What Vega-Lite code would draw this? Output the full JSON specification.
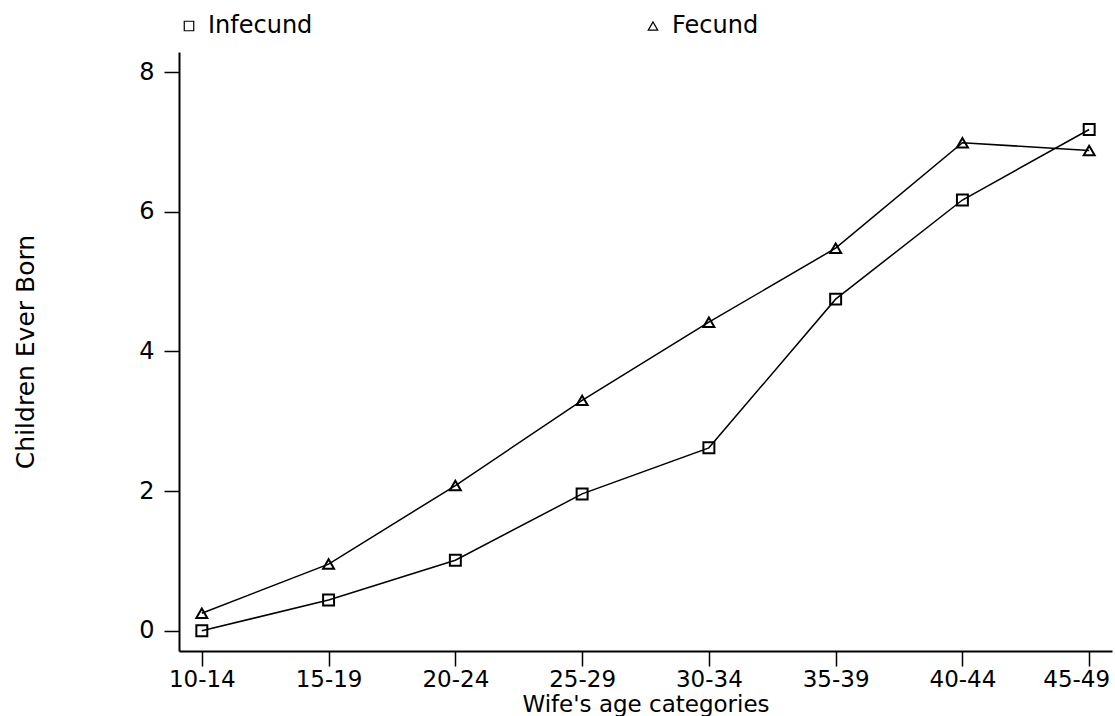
{
  "$schema": "https://vega.github.io/schema/vega-lite/v6.json",
  "width": 933,
  "height": 599,
  "autosize": {"type": "none"},
  "padding": {"left": 179, "top": 52, "right": 3, "bottom": 65},
  "background": "white",
  "config": {
    "view": {"stroke": null},
    "font": "DejaVu Sans",
    "axis": {
      "domainColor": "black",
      "domainWidth": 2,
      "tickColor": "black",
      "tickWidth": 1.5,
      "tickSize": 15,
      "labelFont": "DejaVu Sans",
      "labelFontSize": 24,
      "labelColor": "black",
      "titleFont": "DejaVu Sans",
      "titleFontSize": 24,
      "titleFontWeight": "normal",
      "titleColor": "black",
      "grid": false
    },
    "legend": {
      "labelFont": "DejaVu Sans",
      "labelFontSize": 24,
      "labelColor": "black",
      "padding": 0
    }
  },
  "data": {
    "values": [
      {"age": "10-14", "group": "Infecund", "ceb": 0.0},
      {"age": "15-19", "group": "Infecund", "ceb": 0.44},
      {"age": "20-24", "group": "Infecund", "ceb": 1.01},
      {"age": "25-29", "group": "Infecund", "ceb": 1.96},
      {"age": "30-34", "group": "Infecund", "ceb": 2.62},
      {"age": "35-39", "group": "Infecund", "ceb": 4.75},
      {"age": "40-44", "group": "Infecund", "ceb": 6.17},
      {"age": "45-49", "group": "Infecund", "ceb": 7.18},
      {"age": "10-14", "group": "Fecund", "ceb": 0.25},
      {"age": "15-19", "group": "Fecund", "ceb": 0.955},
      {"age": "20-24", "group": "Fecund", "ceb": 2.08},
      {"age": "25-29", "group": "Fecund", "ceb": 3.3},
      {"age": "30-34", "group": "Fecund", "ceb": 4.42},
      {"age": "35-39", "group": "Fecund", "ceb": 5.48},
      {"age": "40-44", "group": "Fecund", "ceb": 6.99},
      {"age": "45-49", "group": "Fecund", "ceb": 6.88}
    ]
  },
  "encoding": {
    "x": {
      "field": "age",
      "type": "ordinal",
      "sort": ["10-14", "15-19", "20-24", "25-29", "30-34", "35-39", "40-44", "45-49"],
      "scale": {"type": "point", "padding": 0.18},
      "axis": {
        "title": "Wife's age categories",
        "labelAngle": 0,
        "labelFontSize": 23,
        "labelPadding": 2,
        "labelOffset": {"condition": {"test": "datum.label == '45-49'", "value": -13}, "value": 0},
        "titleFontSize": 23,
        "titleBaseline": "alphabetic",
        "titleY": 60
      }
    },
    "y": {
      "field": "ceb",
      "type": "quantitative",
      "scale": {"domain": [-0.29, 8.29], "nice": false, "zero": false},
      "axis": {
        "title": "Children Ever Born",
        "values": [0, 2, 4, 6, 8],
        "labelPadding": 10,
        "titleFontSize": 25,
        "titleBaseline": "alphabetic",
        "titleAngle": 270,
        "titleAlign": "center",
        "titleX": -146,
        "titleY": 299.5
      }
    }
  },
  "layer": [
    {
      "mark": {"type": "line", "color": "black", "strokeWidth": 1.5},
      "encoding": {"detail": {"field": "group"}}
    },
    {
      "mark": {"type": "point", "filled": false, "color": "black", "strokeWidth": 2, "size": 120, "opacity": 1},
      "encoding": {
        "shape": {
          "field": "group",
          "type": "nominal",
          "scale": {"domain": ["Infecund", "Fecund"], "range": ["square", "triangle-up"]},
          "legend": {
            "title": null,
            "orient": "none",
            "direction": "horizontal",
            "legendX": -2,
            "legendY": -38,
            "columnPadding": 328,
            "symbolSize": 90,
            "symbolStrokeWidth": 1.2,
            "symbolStrokeColor": "black",
            "symbolFillColor": "transparent",
            "labelOffset": 7
          }
        }
      }
    }
  ]
}
